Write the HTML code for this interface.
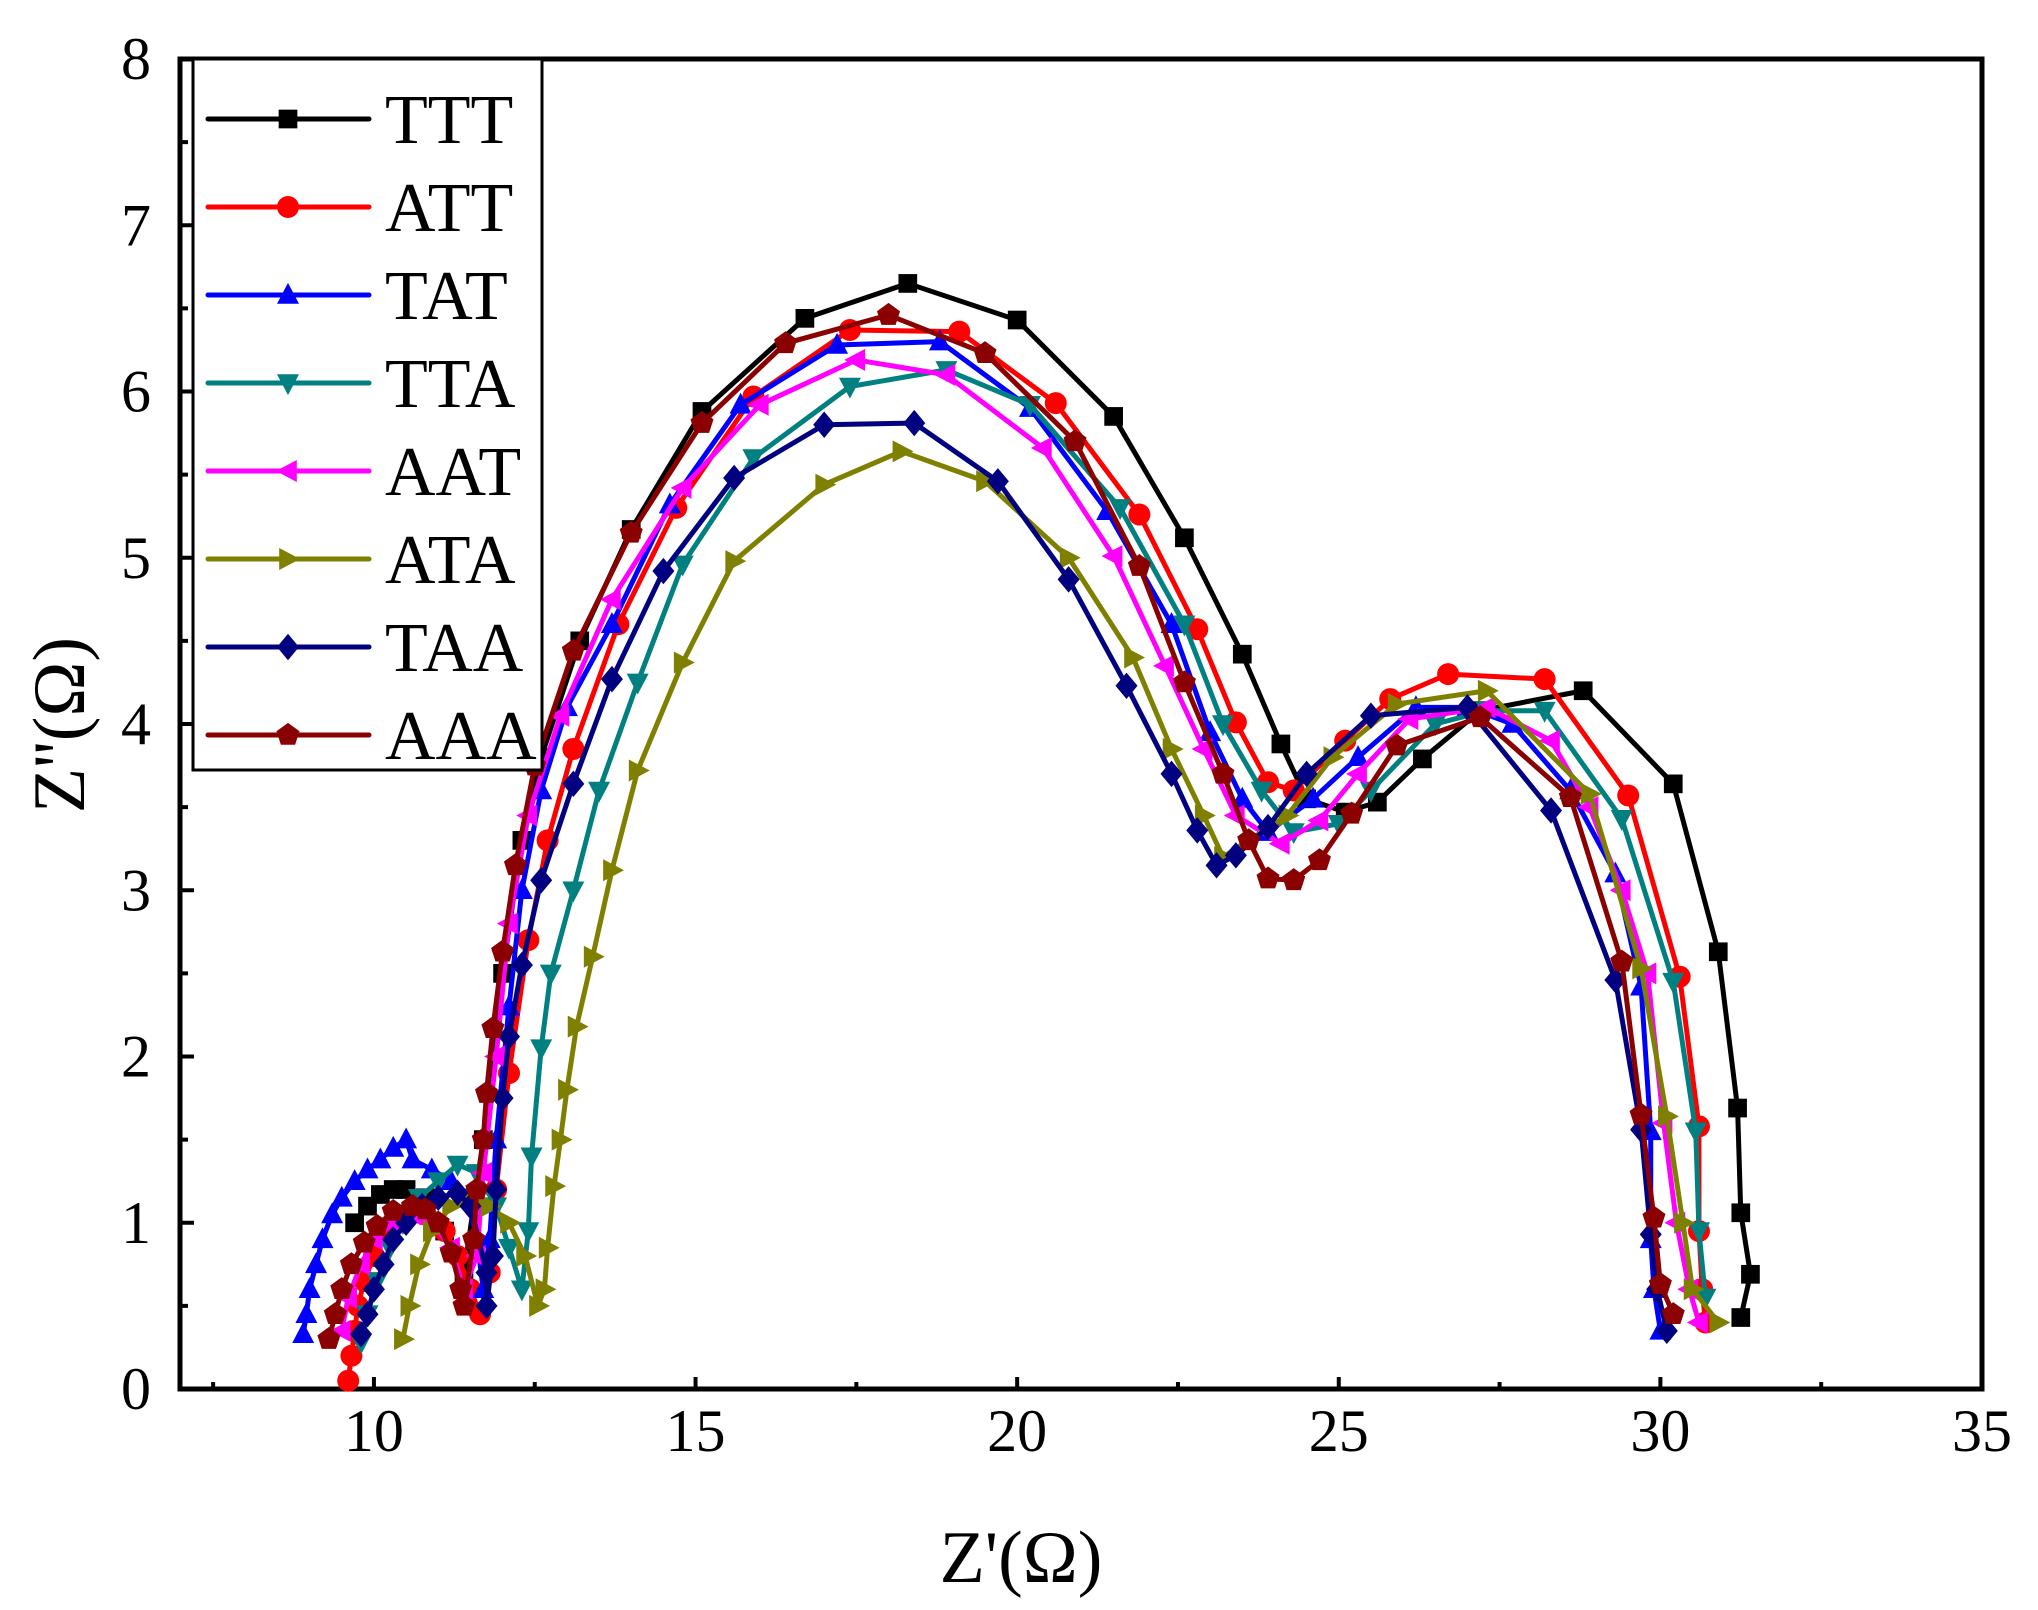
<!DOCTYPE html>
<html><head><meta charset="utf-8"><style>
html,body{margin:0;padding:0;background:#fff;}
svg{display:block;font-family:"Liberation Serif",serif;}
</style></head><body>
<svg id="chart" width="2038" height="1610" viewBox="0 0 2038 1610">
<g id="axes"></g>
<g id="series"></g>
<g id="legend"></g>
<text x="1021" y="1582" font-size="74" text-anchor="middle">Z'(Ω)</text>
<text x="0" y="0" font-size="74" text-anchor="middle" transform="translate(84,725) rotate(-90)">Z''(Ω)</text>
</svg>
<script>
const xTicks=[10,15,20,25,30,35];
const yTicks=[0,1,2,3,4,5,6,7,8];
const names=["TTT","ATT","TAT","TTA","AAT","ATA","TAA","AAA"];
const colors=["#000000","#ff0000","#0000ff","#008080","#ff00ff","#808000","#000080","#8b0000"];
const markers=["square","circle","up","down","left","right","diamond","pentagon"];
const sTTT_x=[9.7,9.9,10.1,10.3,10.5,10.8,11.1,11.4,11.7,12.0,12.3,12.6,13.2,14.0,15.1,16.7,18.3,20.0,21.5,22.6,23.5,24.1,24.5,25.1,25.6,26.3,27.2,28.8,30.2,30.9,31.2,31.25,31.4,31.25];
const sTTT_y=[1.0,1.1,1.17,1.2,1.2,1.15,0.95,0.7,1.5,2.5,3.3,3.8,4.5,5.17,5.88,6.44,6.65,6.43,5.85,5.12,4.42,3.88,3.55,3.47,3.53,3.79,4.08,4.2,3.64,2.63,1.69,1.06,0.69,0.43];
const sATT_x=[9.6,9.65,9.7,9.75,9.85,10.0,10.2,10.5,10.8,11.1,11.3,11.5,11.65,11.8,11.9,12.1,12.4,12.7,13.1,13.8,14.7,15.9,17.4,19.1,20.6,21.9,22.8,23.4,23.9,24.3,25.1,25.8,26.7,28.2,29.5,30.3,30.6,30.6,30.65,30.7];
const sATT_y=[0.05,0.2,0.35,0.5,0.65,0.8,0.95,1.05,1.05,0.95,0.8,0.6,0.45,0.7,1.2,1.9,2.7,3.3,3.85,4.6,5.3,5.97,6.37,6.36,5.93,5.26,4.57,4.01,3.65,3.6,3.9,4.15,4.3,4.27,3.57,2.48,1.58,0.95,0.6,0.4];
const sTAT_x=[8.9,8.95,9.0,9.1,9.2,9.35,9.5,9.7,9.9,10.1,10.3,10.5,10.6,10.9,11.2,11.45,11.6,11.7,11.8,11.9,12.1,12.3,12.6,13.0,13.7,14.6,15.7,17.2,18.8,20.2,21.4,22.4,23.0,23.5,23.9,24.6,25.3,26.2,27.0,27.7,28.6,29.3,29.7,29.85,29.85,29.9,30.0];
const sTAT_y=[0.33,0.45,0.6,0.75,0.9,1.05,1.15,1.25,1.32,1.38,1.45,1.5,1.38,1.32,1.25,1.15,0.9,0.6,0.9,1.5,2.3,3.0,3.6,4.1,4.6,5.32,5.92,6.28,6.3,5.9,5.28,4.6,3.95,3.55,3.35,3.55,3.8,4.1,4.1,4.0,3.6,3.1,2.42,1.55,0.9,0.6,0.35];
const sTTA_x=[9.8,9.9,10.05,10.25,10.45,10.7,11.0,11.3,11.6,11.9,12.1,12.3,12.4,12.45,12.6,12.75,13.1,13.5,14.1,14.8,15.9,17.4,18.9,20.2,21.6,22.6,23.2,23.8,24.3,25.0,25.5,26.5,27.3,28.2,29.4,30.2,30.55,30.6,30.7];
const sTTA_y=[0.28,0.45,0.65,0.85,1.0,1.15,1.25,1.35,1.3,1.1,0.85,0.6,0.95,1.4,2.05,2.5,3.0,3.6,4.25,4.96,5.6,6.03,6.13,5.92,5.3,4.6,4.0,3.6,3.35,3.4,3.6,4.0,4.08,4.08,3.43,2.45,1.55,0.95,0.55];
const sAAT_x=[9.5,9.6,9.8,10.0,10.3,10.6,10.9,11.2,11.4,11.6,11.7,11.9,12.1,12.4,12.9,13.7,14.8,16.0,17.5,18.9,20.4,21.5,22.3,22.9,23.4,24.1,24.7,25.3,26.1,27.3,28.3,28.9,29.4,29.8,30.05,30.25,30.45,30.6];
const sAAT_y=[0.35,0.55,0.75,0.9,1.0,1.05,1.0,0.85,0.6,0.8,1.3,2.0,2.8,3.45,4.05,4.75,5.42,5.92,6.19,6.1,5.66,5.01,4.35,3.85,3.45,3.28,3.42,3.7,4.03,4.1,3.9,3.5,3.0,2.5,1.6,1.0,0.6,0.4];
const sATA_x=[10.45,10.55,10.7,10.9,11.2,11.5,11.8,12.1,12.35,12.55,12.65,12.7,12.8,12.9,13.0,13.15,13.4,13.7,14.1,14.8,15.6,17.0,18.2,19.5,20.8,21.8,22.4,22.9,23.2,24.2,24.9,25.9,27.3,28.9,29.7,30.1,30.35,30.5,30.9];
const sATA_y=[0.3,0.5,0.75,0.95,1.1,1.15,1.1,1.0,0.8,0.5,0.6,0.85,1.22,1.5,1.8,2.18,2.6,3.12,3.72,4.37,4.98,5.44,5.64,5.46,5.0,4.4,3.85,3.45,3.2,3.45,3.8,4.12,4.2,3.58,2.53,1.64,1.0,0.6,0.4];
const sTAA_x=[9.8,9.9,10.0,10.15,10.3,10.5,10.75,11.0,11.3,11.5,11.75,11.75,11.85,11.9,12.0,12.1,12.3,12.6,13.1,13.7,14.5,15.6,17.0,18.4,19.7,20.8,21.7,22.4,22.8,23.1,23.4,23.9,24.5,25.5,27.0,28.3,29.3,29.7,29.85,29.95,30.1];
const sTAA_y=[0.33,0.45,0.6,0.75,0.9,1.0,1.1,1.15,1.18,1.1,0.7,0.5,0.8,1.2,1.75,2.12,2.55,3.06,3.64,4.27,4.92,5.48,5.8,5.81,5.46,4.87,4.23,3.7,3.36,3.15,3.21,3.38,3.7,4.05,4.1,3.48,2.46,1.56,0.93,0.6,0.35];
const sAAA_x=[9.3,9.4,9.5,9.65,9.85,10.05,10.3,10.6,10.8,11.0,11.2,11.35,11.4,11.55,11.6,11.7,11.75,11.85,12.0,12.2,12.5,13.1,14.0,15.1,16.4,18.0,19.5,20.9,21.9,22.6,23.2,23.6,23.9,24.3,24.7,25.2,25.9,27.2,28.6,29.4,29.7,29.9,30.0,30.2];
const sAAA_y=[0.3,0.45,0.6,0.75,0.88,0.98,1.07,1.1,1.08,1.0,0.82,0.6,0.5,0.9,1.2,1.5,1.78,2.17,2.63,3.15,3.75,4.44,5.15,5.81,6.29,6.46,6.23,5.7,4.95,4.25,3.7,3.3,3.07,3.06,3.18,3.46,3.87,4.04,3.56,2.57,1.65,1.03,0.63,0.45];
const seriesX=[sTTT_x,sATT_x,sTAT_x,sTTA_x,sAAT_x,sATA_x,sTAA_x,sAAA_x];
const seriesY=[sTTT_y,sATT_y,sTAT_y,sTTA_y,sAAT_y,sATA_y,sTAA_y,sAAA_y];

const L=180,R=1982,T=59,B=1389,XMIN=6.985,XMAX=35,YMIN=0,YMAX=8;
const xs=v=>L+(v-XMIN)/(XMAX-XMIN)*(R-L);
const ys=v=>B-(v-YMIN)/(YMAX-YMIN)*(B-T);
const NS="http://www.w3.org/2000/svg";
function mk(tag,attrs,parent){const e=document.createElementNS(NS,tag);for(const k in attrs)e.setAttribute(k,attrs[k]);parent.appendChild(e);return e;}
const axes=document.getElementById('axes');
const frame=mk('rect',{x:L,y:T,width:R-L,height:B-T,fill:'none',stroke:'#000','stroke-width':5},axes);


for(const t of xTicks){
  const ln=mk('line',{x1:xs(t),x2:xs(t),y1:B,y2:B-12,stroke:'#000','stroke-width':4},axes);
  
  
  const lb=mk('text',{x:xs(t),y:B+62,'font-size':60,'text-anchor':'middle'},axes);
  lb.textContent=t;
  
  
  if(t<35){const m=mk('line',{x1:xs(t+2.5),x2:xs(t+2.5),y1:B,y2:B-7,stroke:'#000','stroke-width':4},axes);
  
  }
}
const m0=mk('line',{x1:xs(7.5),x2:xs(7.5),y1:B,y2:B-7,stroke:'#000','stroke-width':4},axes);


for(const t of yTicks){
  const ln=mk('line',{x1:L,x2:L+14,y1:ys(t),y2:ys(t),stroke:'#000','stroke-width':4},axes);
  
  
  const lb=mk('text',{x:L-44,y:ys(t)+20,'font-size':60,'text-anchor':'middle'},axes);
  lb.textContent=t;
  
  
  if(t<8){const m=mk('line',{x1:L,x2:L+8,y1:ys(t+0.5),y2:ys(t+0.5),stroke:'#000','stroke-width':4},axes);
  
  }
}
function marker(type,cx,cy,s,col,parent){
  let e;
  const r=s;
  const poly=pts=>mk('polygon',{points:pts.map(p=>(cx+p[0]*r)+','+(cy+p[1]*r)).join(' '),fill:col},parent);
  if(type==='square')e=mk('rect',{x:cx-r*0.85,y:cy-r*0.85,width:r*1.7,height:r*1.7,fill:col},parent);
  else if(type==='circle')e=mk('circle',{cx:cx,cy:cy,r:r,fill:col},parent);
  else if(type==='up')e=poly([[0,-1.1],[1,0.8],[-1,0.8]]);
  else if(type==='down')e=poly([[0,1.1],[1,-0.8],[-1,-0.8]]);
  else if(type==='left')e=poly([[-1.1,0],[0.8,-1],[0.8,1]]);
  else if(type==='right')e=poly([[1.1,0],[-0.8,-1],[-0.8,1]]);
  else if(type==='diamond')e=poly([[0,-1.2],[1,0],[0,1.2],[-1,0]]);
  else {const p=[];for(let i=0;i<5;i++){const a=-Math.PI/2+i*2*Math.PI/5;p.push([Math.cos(a)*1.1,Math.sin(a)*1.1]);}e=poly(p);}
  return e;
}
const sg=document.getElementById('series');
for(let i=0;i<names.length;i++){
  const g=mk('g',{},sg);
  
  
  const pts=seriesX[i].map((x,j)=>xs(x)+','+ys(seriesY[i][j])).join(' ');
  const pl=mk('polyline',{points:pts,fill:'none',stroke:colors[i],'stroke-width':5,'stroke-linejoin':'round'},g);
  
  
  seriesX[i].forEach((x,j)=>{
    const m=marker(markers[i],xs(x),ys(seriesY[i][j]),11,colors[i],g);
    
    
  });
}
const lg=document.getElementById('legend');
const box=mk('rect',{x:193,y:59,width:349,height:711,fill:'#fff',stroke:'#000','stroke-width':3},lg);


for(let i=0;i<names.length;i++){
  const y=119+i*88;
  const g=mk('g',{},lg);
  
  
  mk('line',{x1:208,x2:369,y1:y,y2:y,stroke:colors[i],'stroke-width':5,'stroke-linecap':'round'},g);
  marker(markers[i],288,y,11,colors[i],g);
  const t=mk('text',{x:385,y:y+24,'font-size':70},g);
  t.textContent=names[i];
}
</script>
</body></html>
